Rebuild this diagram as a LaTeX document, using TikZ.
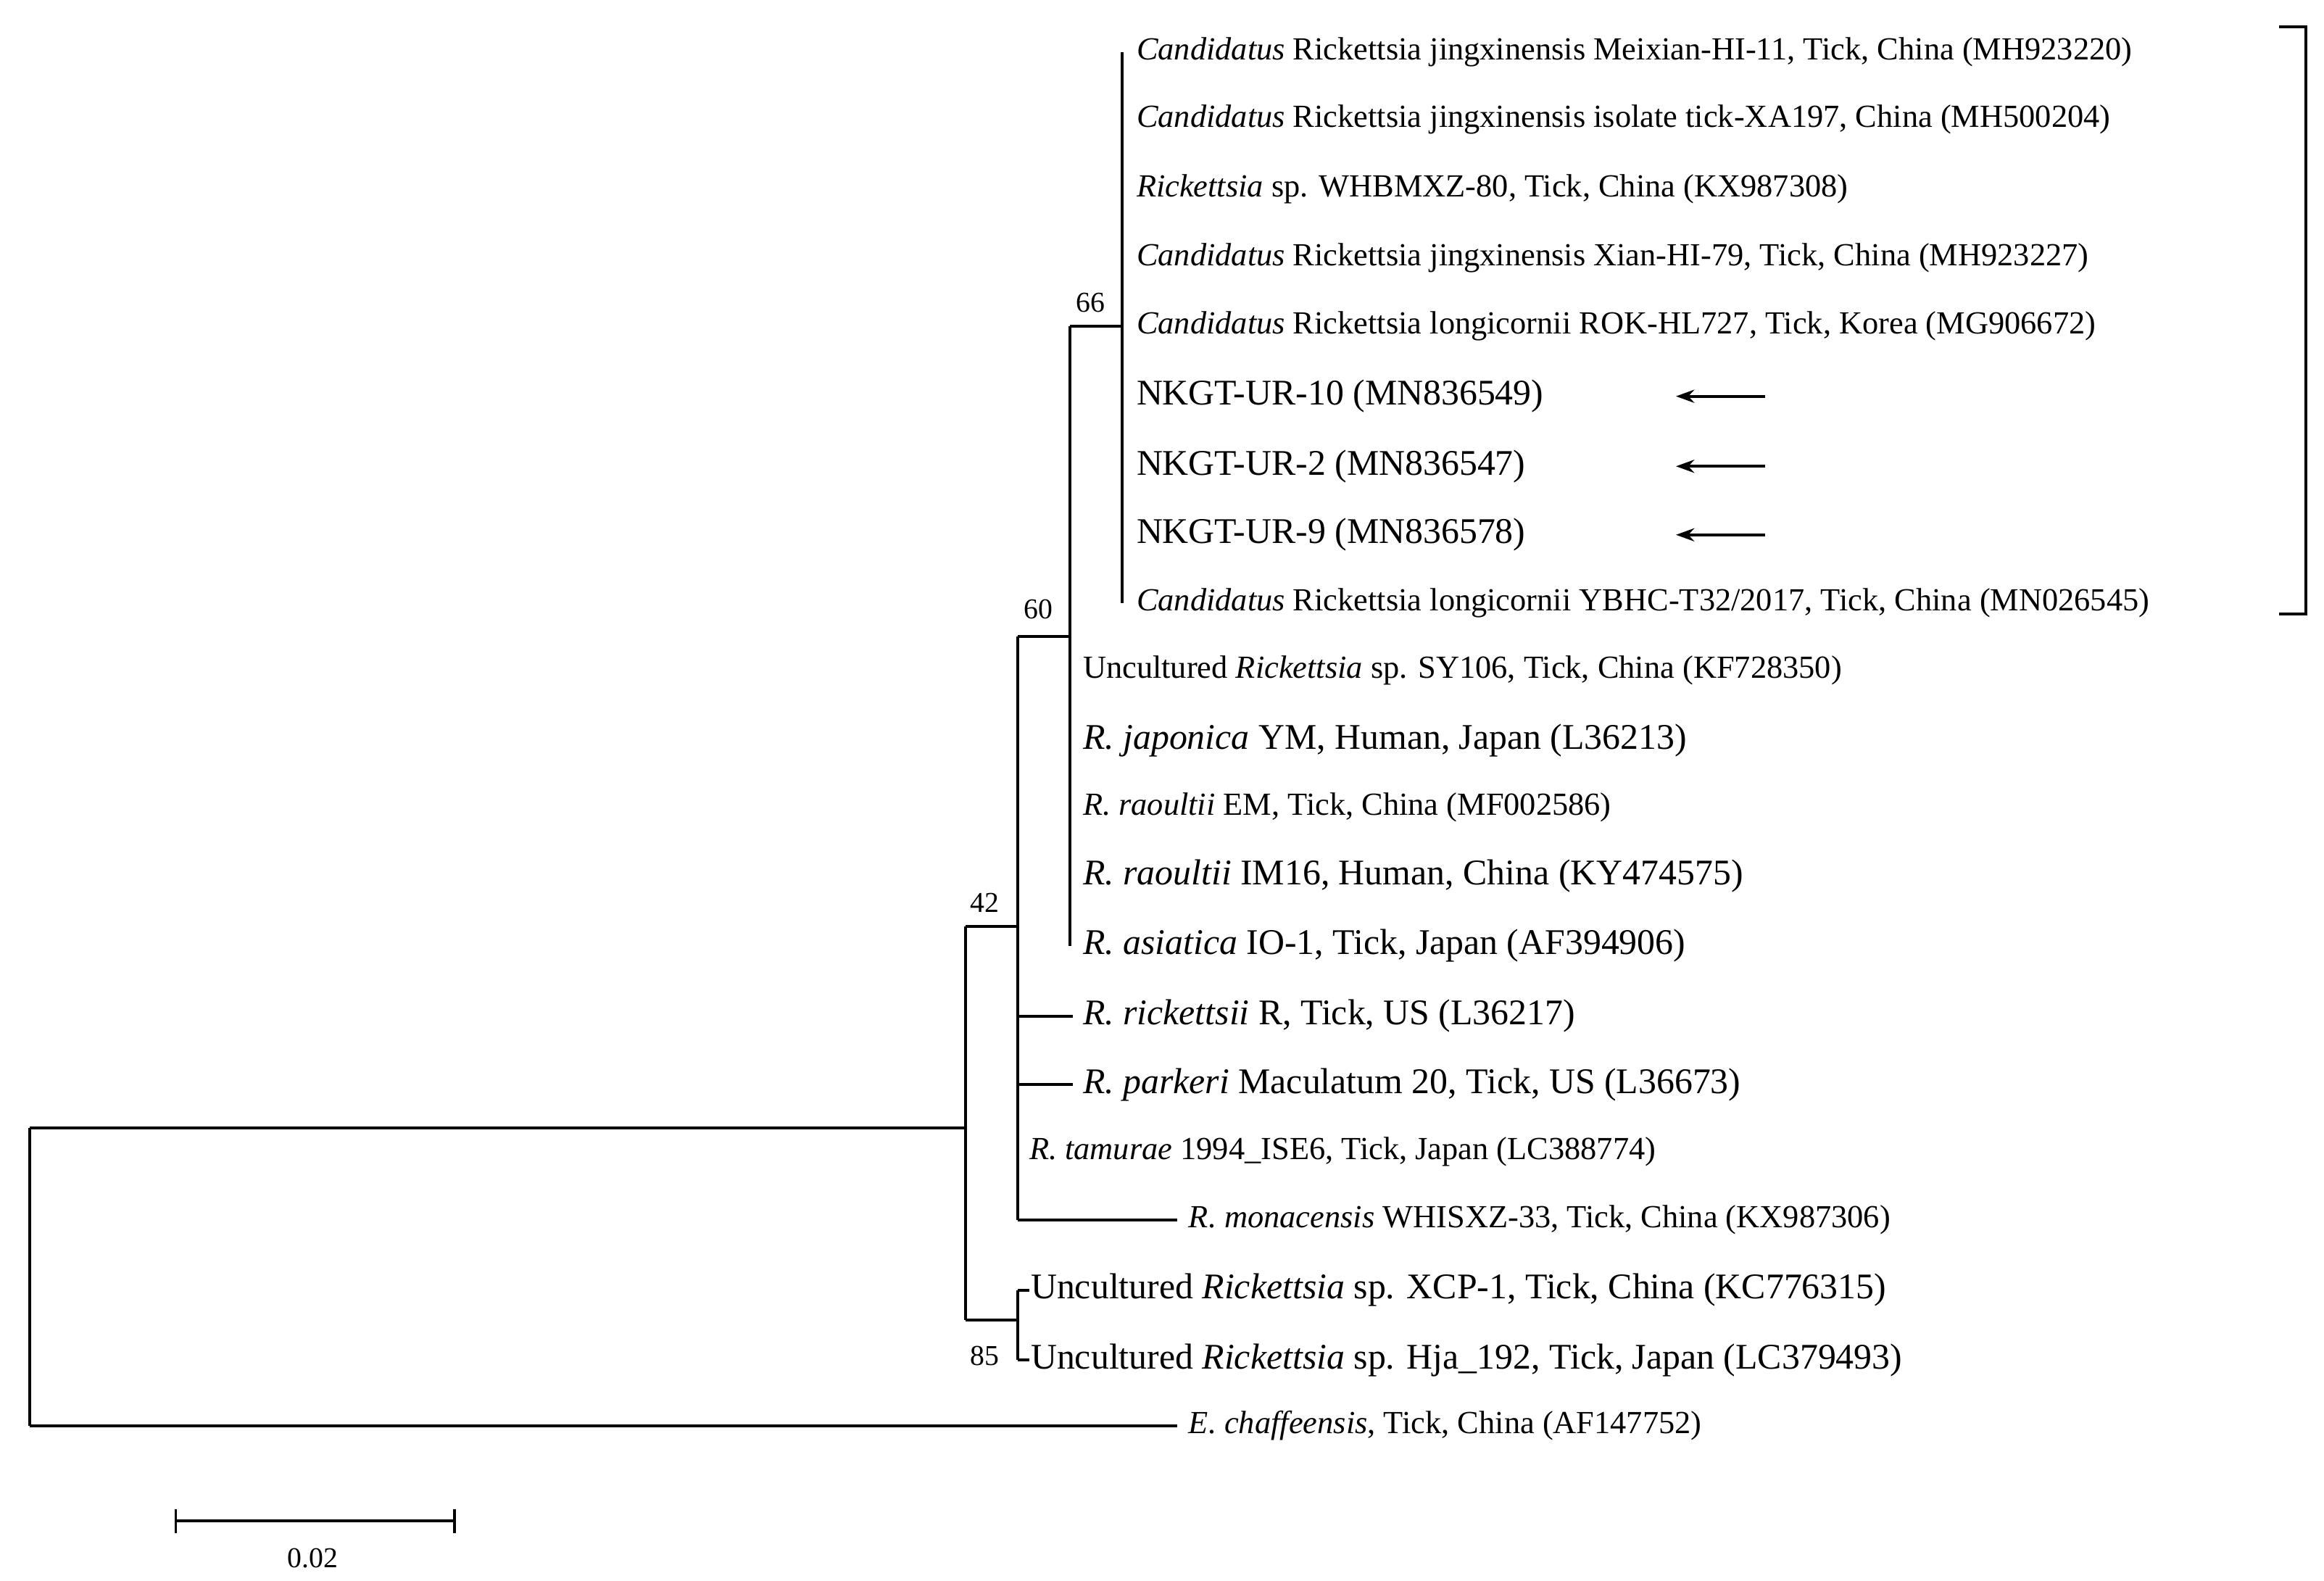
\documentclass[tikz,border=0pt]{standalone}
\usepackage{fontspec}
\usetikzlibrary{arrows.meta}
\setmainfont{Liberation Serif}
\begin{document}
\begin{tikzpicture}[x=0.02cm,y=-0.02cm,line width=1.1pt,
 sm/.style={anchor=west,inner sep=0pt,font=\fontsize{12.3}{14}\selectfont},
 lg/.style={anchor=west,inner sep=0pt,font=\fontsize{13.8}{16}\selectfont},
 bs/.style={inner sep=0pt,font=\fontsize{11}{13}\selectfont},
 arr/.style={-{Stealth[length=7pt,width=5pt]},line width=1.1pt}]
\useasboundingbox (0,0) rectangle (1560,1061);
% root
\coordinate (r1) at (20,757); \coordinate (r2) at (20,957);
\coordinate (n42) at (648,757);
\draw (r1) -- (r2);
\draw (r1) -- (n42);
\node[sm] (ech) at (797,957) {\textit{E. chaffeensis}, Tick, China (AF147752)};
\draw (r2) -- (ech.west -| 790,957);
% node 42
\draw (648,622) -- (648,886);
\node[bs] (b42) at (661,606) {42};
\draw (648,886) -- (683,886);
\draw (683,866) -- (683,913);
\node[bs] (b85) at (661,910) {85};
\node[lg] (xcp) at (691,866) {Uncultured \textit{Rickettsia} sp. XCP-1, Tick, China (KC776315)};
\node[lg] (hja) at (691,913) {Uncultured \textit{Rickettsia} sp. Hja\_192, Tick, Japan (LC379493)};
\draw (683,866) -- (xcp.west); \draw (683,913) -- (hja.west);
% node at 683
\draw (648,622) -- (683,622);
\draw (683,427) -- (683,819);
\node[bs] (b60) at (697,409) {60};
\draw (683,427) -- (718,427);
\node[lg] (ric) at (726,682) {\textit{R. rickettsii} R, Tick, US (L36217)};
\node[lg] (par) at (726,728) {\textit{R. parkeri} Maculatum 20, Tick, US (L36673)};
\node[sm] (tam) at (690,773) {\textit{R. tamurae} 1994\_ISE6, Tick, Japan (LC388774)};
\node[sm] (mon) at (797,819) {\textit{R. monacensis} WHISXZ-33, Tick, China (KX987306)};
\draw (683,682) -- (720,682);
\draw (683,728) -- (720,728);
\draw (683,819) -- (790,819);
% node at 718
\draw (718,219) -- (718,635);
\draw (718,219) -- (753,219);
\node[bs] (b66) at (732,203) {66};
\node[sm] (sy) at (726,450) {Uncultured \textit{Rickettsia} sp. SY106, Tick, China (KF728350)};
\node[lg] (jap) at (726,497) {\textit{R. japonica} YM, Human, Japan (L36213)};
\node[sm] (rem) at (726,542) {\textit{R. raoultii} EM, Tick, China (MF002586)};
\node[lg] (rim) at (726,588) {\textit{R. raoultii} IM16, Human, China (KY474575)};
\node[lg] (asi) at (726,635) {\textit{R. asiatica} IO-1, Tick, Japan (AF394906)};
% node 66
\draw (753,35) -- (753,405);
\node[sm] (c1) at (762,35) {\textit{Candidatus} Rickettsia jingxinensis Meixian-HI-11, Tick, China (MH923220)};
\node[sm] (c2) at (762,80) {\textit{Candidatus} Rickettsia jingxinensis isolate tick-XA197, China (MH500204)};
\node[sm] (c3) at (762,127) {\textit{Rickettsia} sp. WHBMXZ-80, Tick, China (KX987308)};
\node[sm] (c4) at (762,173) {\textit{Candidatus} Rickettsia jingxinensis Xian-HI-79, Tick, China (MH923227)};
\node[sm] (c5) at (762,219) {\textit{Candidatus} Rickettsia longicornii ROK-HL727, Tick, Korea (MG906672)};
\node[lg] (u10) at (762,266) {NKGT-UR-10 (MN836549)};
\node[lg] (u2) at (762,313) {NKGT-UR-2 (MN836547)};
\node[lg] (u9) at (762,359) {NKGT-UR-9 (MN836578)};
\node[sm] (c9) at (762,405) {\textit{Candidatus} Rickettsia longicornii YBHC-T32/2017, Tick, China (MN026545)};
% arrows
\coordinate (a10) at (1185,266); \coordinate (a2) at (1185,313); \coordinate (a9) at (1185,359);
\coordinate (t10) at (1125,266); \coordinate (t2) at (1125,313); \coordinate (t9) at (1125,359);
\draw[arr] (a10) -- (t10); \draw[arr] (a2) -- (t2); \draw[arr] (a9) -- (t9);
% bracket
\draw (1530,18) -- (1548,18) -- (1548,412) -- (1530,412);
% scale bar
\draw (118,1021) -- (305,1021);
\draw (118,1013) -- (118,1029); \draw (305,1013) -- (305,1029);
\node[bs] (sc) at (210,1046) {0.02};
\end{tikzpicture}
\end{document}
